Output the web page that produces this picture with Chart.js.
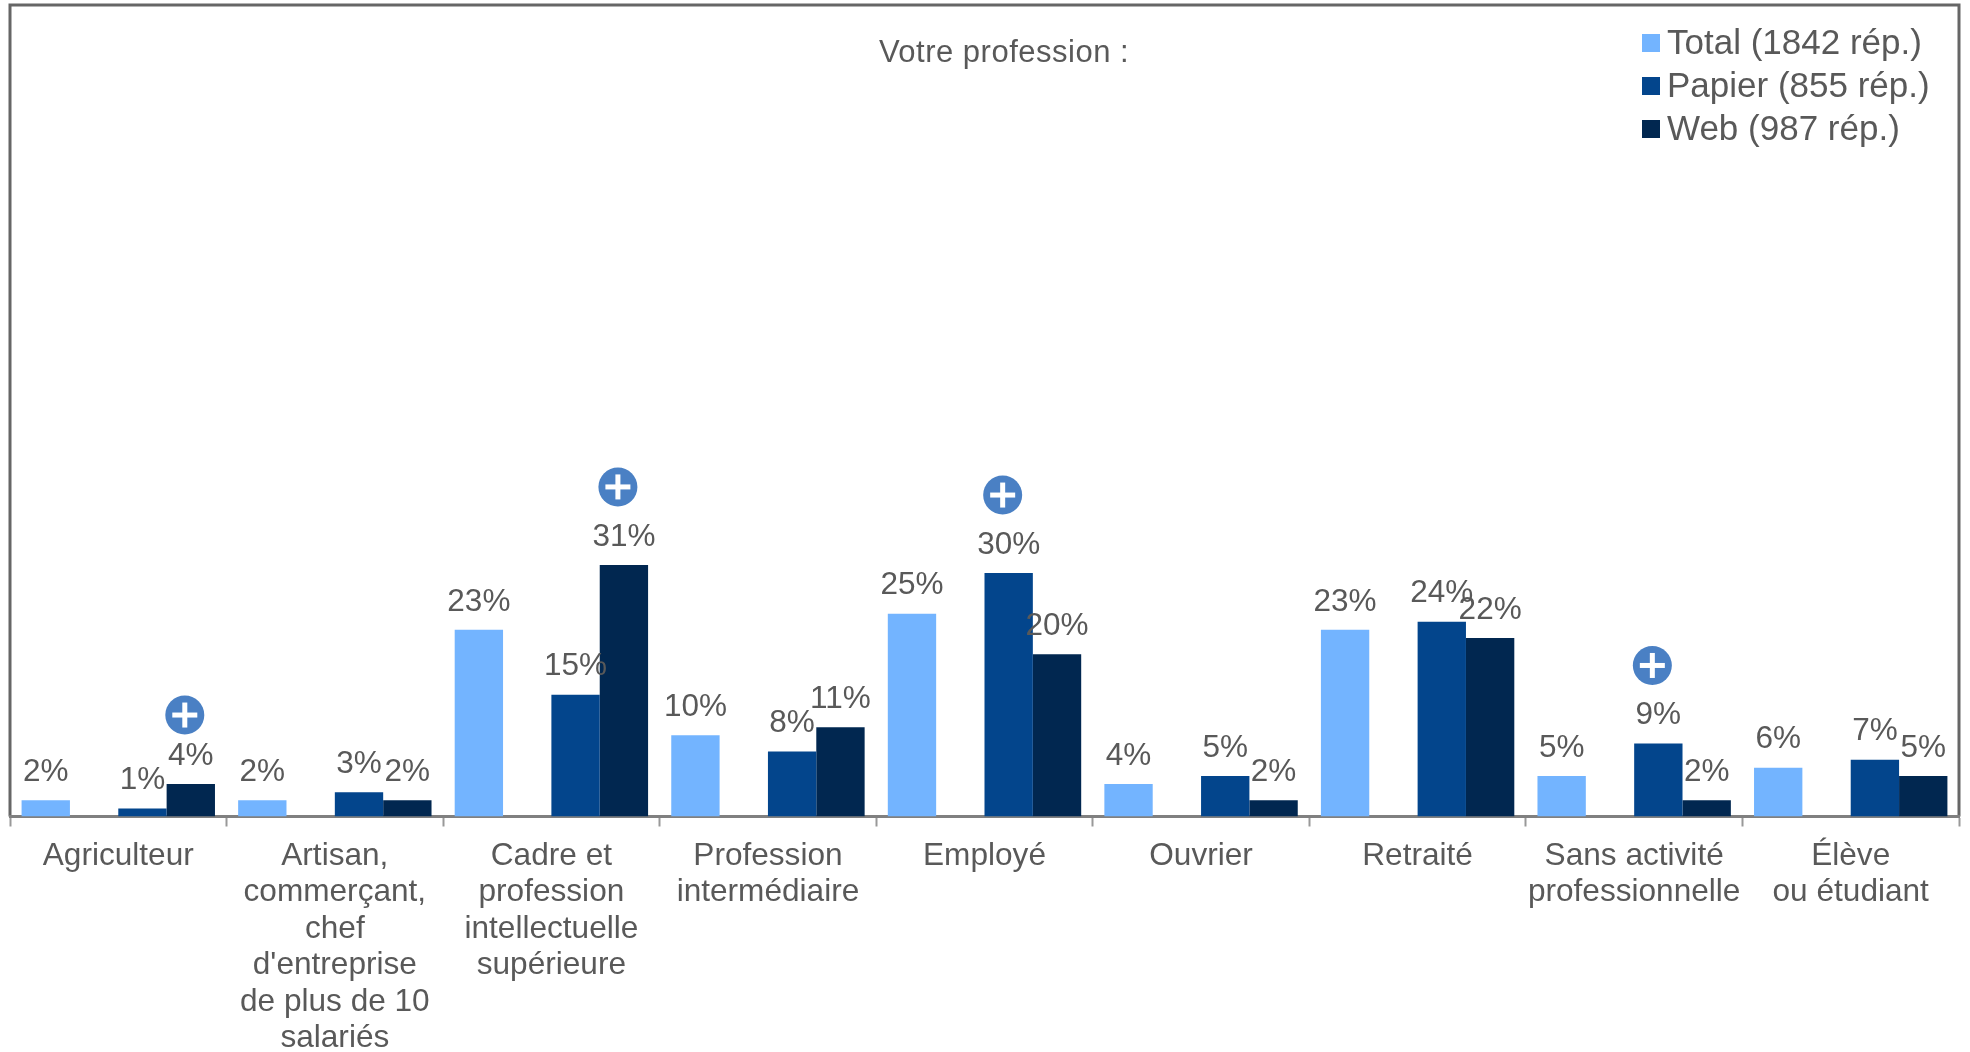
<!DOCTYPE html>
<html lang="fr">
<head>
<meta charset="utf-8">
<title>Votre profession</title>
<script src="https://cdn.jsdelivr.net/npm/chart.js@4/dist/chart.umd.min.js"></script>
<style>
  html, body { margin: 0; padding: 0; background: #ffffff; }
  #wrap { width: 1970px; height: 1052px; position: relative; }
</style>
</head>
<body>
<div id="wrap"><canvas id="chart"></canvas></div>
<script>
const categories = [
  "Agriculteur",
  ["Artisan,", "commerçant,", "chef", "d'entreprise", "de plus de 10", "salariés"],
  ["Cadre et", "profession", "intellectuelle", "supérieure"],
  ["Profession", "intermédiaire"],
  "Employé",
  "Ouvrier",
  "Retraité",
  ["Sans activité", "professionnelle"],
  ["Élève", "ou étudiant"]
];
const totalValues  = [2, 2, 23, 10, 25, 4, 23, 5, 6];
const papierValues = [1, 3, 15, 8, 30, 5, 24, 9, 7];
const webValues    = [4, 2, 31, 11, 20, 2, 22, 2, 5];
const spacerValues = [null, null, null, null, null, null, null, null, null];

const seriesNames = ["Total (1842 rép.)", "Papier (855 rép.)", "Web (987 rép.)"];
const chartTitle = "Votre profession :";

// Answers significantly above the other mode: [category index, dataset index]
const plusMarks = [[0, 3], [2, 3], [4, 2], [7, 2]];

const TEXT = "#595959";
const FONT = '"Liberation Sans", Arial, sans-serif';

const framePlugin = {
  id: "frame",
  beforeDraw(chart) {
    const { ctx, chartArea: a } = chart;
    ctx.save();
    ctx.strokeStyle = "#666666";
    ctx.lineWidth = 3;
    ctx.beginPath();
    ctx.moveTo(a.left, a.bottom);
    ctx.lineTo(a.left, a.top);
    ctx.lineTo(a.right, a.top);
    ctx.lineTo(a.right, a.bottom);
    ctx.stroke();
    ctx.restore();
  }
};

const annotationPlugin = {
  id: "annotations",
  afterDraw(chart) {
    const { ctx, chartArea: a } = chart;
    ctx.save();

    // Heading
    ctx.fillStyle = TEXT;
    ctx.font = "31px " + FONT;
    ctx.letterSpacing = "0.5px";
    ctx.textAlign = "center";
    ctx.textBaseline = "middle";
    ctx.fillText(chartTitle, a.left + 994, a.top + 48);
    ctx.letterSpacing = "0px";

    // Value labels above each bar
    ctx.font = "31.5px " + FONT;
    chart.data.datasets.forEach((ds, d) => {
      chart.getDatasetMeta(d).data.forEach((bar, i) => {
        if (ds.data[i] == null) return;
        ctx.fillText(ds.data[i] + "%", bar.x, bar.y - 28);
      });
    });

    // Round "+" badges above the flagged bars
    plusMarks.forEach(([i, d]) => {
      const bar = chart.getDatasetMeta(d).data[i];
      const lift = chart.data.datasets[d].data[i] < 5 ? 69 : 78;
      const cx = bar.x - 6, cy = bar.y - lift;
      ctx.fillStyle = "#4A80C4";
      ctx.beginPath();
      ctx.arc(cx, cy, 19.5, 0, Math.PI * 2);
      ctx.fill();
      ctx.fillStyle = "#ffffff";
      ctx.fillRect(cx - 12.5, cy - 2.5, 25, 5);
      ctx.fillRect(cx - 2.5, cy - 12.5, 5, 25);
    });

    // Legend column in the top right corner of the frame
    ctx.textAlign = "left";
    ctx.textBaseline = "alphabetic";
    ctx.font = "35px " + FONT;
    const shown = chart.data.datasets.filter(ds => ds.label);
    shown.forEach((ds, row) => {
      const y = a.top + 29 + row * 43;
      ctx.fillStyle = ds.backgroundColor;
      ctx.fillRect(a.right - 317, y, 18, 18);
      ctx.fillStyle = TEXT;
      ctx.fillText(ds.label, a.right - 292, y + 19.5);
    });
    ctx.restore();
  }
};

new Chart(document.getElementById("chart"), {
  type: "bar",
  data: {
    labels: categories,
    datasets: [
      { label: seriesNames[0], data: totalValues,  backgroundColor: "#73B4FF" },
      { label: "",             data: spacerValues, backgroundColor: "rgba(0,0,0,0)" },
      { label: seriesNames[1], data: papierValues, backgroundColor: "#03458C" },
      { label: seriesNames[2], data: webValues,    backgroundColor: "#012750" }
    ]
  },
  options: {
    responsive: true,
    maintainAspectRatio: false,
    animation: false,
    layout: { padding: { left: 10, right: 11, top: 5, bottom: 0 } },
    datasets: { bar: { barPercentage: 1, categoryPercentage: 0.893 } },
    scales: {
      x: {
        z: 1,
        offset: true,
        afterFit(scale) { scale.height = 235.5; },
        grid: {
          offset: true,
          drawOnChartArea: false,
          drawTicks: true,
          tickLength: 10,
          tickWidth: 2,
          tickColor: "#999999"
        },
        border: { display: true, color: "#808080", width: 3 },
        ticks: {
          color: TEXT,
          padding: 11.5,
          autoSkip: false,
          maxRotation: 0,
          font: { family: FONT, size: 31.6, lineHeight: 1.152 }
        }
      },
      y: { display: false, min: 0, max: 100 }
    },
    plugins: {
      title: { display: false },
      tooltip: { enabled: false },
      legend: { display: false }
    }
  },
  plugins: [framePlugin, annotationPlugin]
});
</script>
</body>
</html>
